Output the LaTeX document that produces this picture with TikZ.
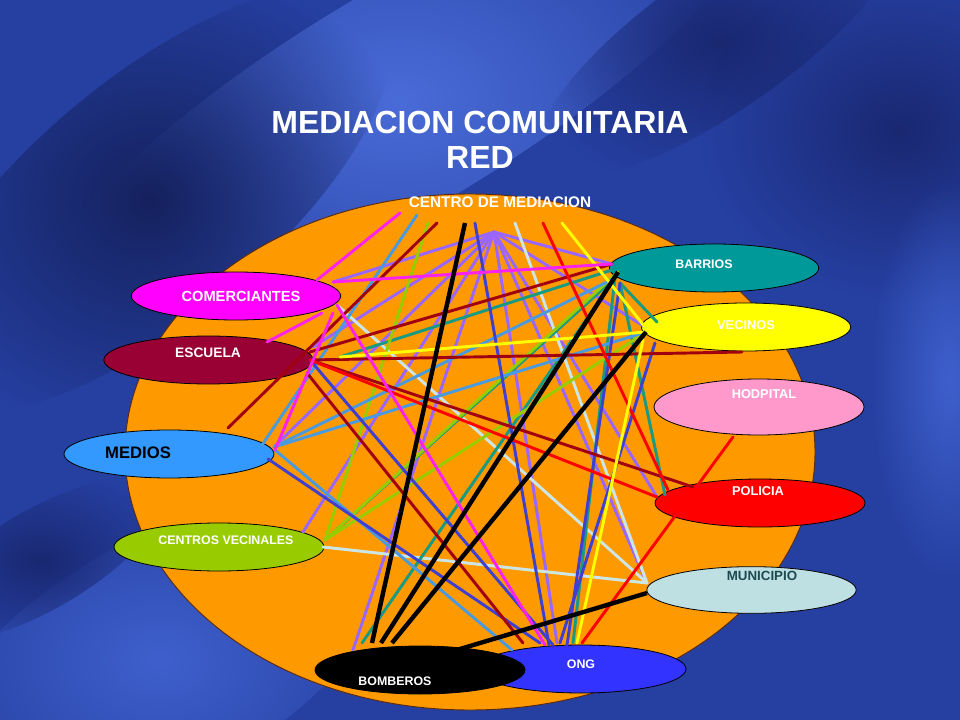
\documentclass[tikz,border=0pt]{standalone}
\usepackage{fontspec}
\setmainfont{Liberation Sans}
\usetikzlibrary{shapes.geometric,fadings}
\tikzfading[name=softblob, inner color=transparent!0, outer color=transparent!100]
\definecolor{bgbase}{HTML}{2640A2}
\definecolor{bgdark}{HTML}{15215E}
\definecolor{bgdark2}{HTML}{1A2872}
\definecolor{bglight}{HTML}{4A6CD8}
\definecolor{bglight2}{HTML}{3F60CC}
\definecolor{orangebig}{HTML}{FF9900}
\definecolor{cMag}{HTML}{FF00FF}
\definecolor{cEsc}{HTML}{990033}
\definecolor{cMed}{HTML}{3399FF}
\definecolor{cCen}{HTML}{99CC00}
\definecolor{cOng}{HTML}{3333FF}
\definecolor{cBar}{HTML}{009999}
\definecolor{cVec}{HTML}{FFFF00}
\definecolor{cHos}{HTML}{FF99CC}
\definecolor{cPol}{HTML}{FF0000}
\definecolor{cMun}{HTML}{BEE0E3}
\definecolor{lMag}{HTML}{FF22EE}
\definecolor{lDred}{HTML}{A00010}
\definecolor{lLav}{HTML}{9966FF}
\definecolor{lBlue}{HTML}{4040D0}
\definecolor{lSky}{HTML}{4A9AE0}
\definecolor{lTeal}{HTML}{1A9A80}
\definecolor{lGreen}{HTML}{99CC00}
\definecolor{lLight}{HTML}{CCE6E6}
\definecolor{lYel}{HTML}{FFFF00}
\definecolor{lRed}{HTML}{FF0000}
\definecolor{tMun}{HTML}{1D4A50}
\definecolor{outl}{HTML}{5A2A10}
\begin{document}
\begin{tikzpicture}[x=0.75pt,y=-0.75pt,
  nd/.style={ellipse, draw=black, line width=0.6pt, inner sep=0pt,
    minimum width=157pt, minimum height=36pt},
  lbl/.style={inner sep=0pt, text=white, font=\fontsize{9.3}{11}\selectfont\bfseries},
  ln/.style={line width=2.2pt, line cap=round},
  thk/.style={line width=3.3pt, draw=black},
  blob/.style={path fading=softblob}]
\useasboundingbox (0,0) rectangle (960,720);
% ---------- background ----------
\begin{scope}
\clip (0,0) rectangle (960,720);
\fill[bgbase] (0,0) rectangle (960,720);
\fill[bglight, blob, rotate around={31:(400,100)}] (400,100) ellipse [x radius=420, y radius=110];
\fill[bgdark, blob, rotate around={40:(150,200)}] (150,200) ellipse [x radius=300, y radius=120];
\fill[bgdark2, blob, rotate around={35:(720,40)}] (720,40) ellipse [x radius=220, y radius=70];
\fill[bgdark2, blob] (900,130) ellipse [x radius=200, y radius=170];
\fill[bglight2, blob, rotate around={30:(160,660)}] (160,660) ellipse [x radius=260, y radius=120];
\fill[bgdark2, blob, rotate around={30:(40,560)}] (40,560) ellipse [x radius=140, y radius=50];
\fill[bglight2, blob] (950,380) ellipse [x radius=80, y radius=200];
\end{scope}
% ---------- big orange ellipse ----------
\draw[fill=orangebig, draw=outl, line width=0.7pt]
  (470,452) ellipse [x radius=345, y radius=258];
% ---------- nodes ----------
\node[nd, fill=cMag] (com) at (236,296) {};
\node[nd, fill=cEsc] (esc) at (208.5,360) {};
\node[nd, fill=cMed, minimum width=157.5pt] (med) at (169,454) {};
\node[nd, fill=cCen, minimum width=157.5pt] (cen) at (219,547) {};
\node[nd, fill=cOng, minimum width=157.5pt] (ong) at (581,669) {};
\node[nd, fill=black, minimum width=157.5pt] (bom) at (420,670) {};
\node[nd, fill=cBar] (bar) at (714,268) {};
\node[nd, fill=cVec] (vec) at (746,327) {};
\node[nd, fill=cHos, minimum width=157.5pt, minimum height=42pt] (hos) at (759,407) {};
\node[nd, fill=cPol, minimum width=157.5pt] (pol) at (760,503) {};
\node[nd, fill=cMun, minimum height=35pt] (mun) at (751.5,590) {};
% ---------- connector end points ----------
\coordinate (t1) at (400,213);
\coordinate (t2) at (417,215);
\coordinate (t3) at (428,223);
\coordinate (t4) at (437,223);
\coordinate (t5) at (465,223);
\coordinate (t6) at (475,223);
\coordinate (hub) at (494,232);
\coordinate (t7) at (515,223);
\coordinate (t8) at (543,223);
\coordinate (t9) at (562,223);
\coordinate (comA) at (333,282);
\coordinate (comB) at (317,280);
\coordinate (comC) at (337,305);
\coordinate (comD) at (322,313);
\coordinate (comE) at (333,313);
\coordinate (escA) at (310,360);
\coordinate (escB) at (310,352);
\coordinate (escC) at (340,357);
\coordinate (escD) at (313,347);
\coordinate (escE) at (267,342);
\coordinate (escF) at (307,373);
\coordinate (medA) at (274,447);
\coordinate (medB) at (268,459);
\coordinate (medC) at (262,445);
\coordinate (medD) at (275,450);
\coordinate (drEnd) at (228,428);
\coordinate (cenA) at (325,540);
\coordinate (cenB) at (323,547);
\coordinate (cenC) at (303,532);
\coordinate (bo1) at (362,643);
\coordinate (bo2) at (372,643);
\coordinate (bo3) at (381,643);
\coordinate (bo4) at (392,643);
\coordinate (bo5) at (353,650);
\coordinate (bo6) at (450,652);
\coordinate (on1) at (512,650);
\coordinate (on2) at (523,643);
\coordinate (on3) at (540,643);
\coordinate (on4) at (545,645);
\coordinate (on4b) at (549,645);
\coordinate (on5) at (553,645);
\coordinate (on6) at (557,643);
\coordinate (on7) at (560,643);
\coordinate (on8) at (567,645);
\coordinate (on9) at (573,643);
\coordinate (on10) at (577,643);
\coordinate (on11) at (582,643);
\coordinate (baA) at (612,264);
\coordinate (baB) at (618,272);
\coordinate (baC) at (615,278);
\coordinate (baD) at (620,283);
\coordinate (baE) at (612,270);
\coordinate (veA) at (646,332);
\coordinate (veB) at (643,340);
\coordinate (veC) at (655,343);
\coordinate (veD) at (657,322);
\coordinate (veE) at (645,327);
\coordinate (drH) at (742,352);
\coordinate (hoEnd) at (733,437);
\coordinate (poA) at (657,497);
\coordinate (poB) at (668,490);
\coordinate (poC) at (693,487);
\coordinate (poD) at (665,495);
\coordinate (muA) at (647,583);
\coordinate (muB) at (647,593);
% ---------- connectors ----------
\foreach \e in {comA,escD,medA,cenC,bo5,on6,poA,baA,veE,muA}
  \draw[ln, lLav] (hub) -- (\e);
\draw[ln, lLight] (t7) -- (muA);
\draw[ln, lLight] (comC) -- (muA);
\draw[ln, lLight] (cenB) -- (muA);
\draw[ln, lTeal] (escC) -- (baE);
\draw[ln, lTeal] (baC) -- (bo1);
\draw[ln, lTeal] (baD) -- (veD);
\draw[ln, lTeal] (baD) -- (poD);
\draw[ln, lTeal] (baC) -- (on9);
\draw[ln, lTeal] (cenA) -- (baC);
\draw[ln, lGreen] (t3) -- (cenA);
\draw[ln, lGreen] (cenA) -- (veA);
\draw[ln, lGreen] (cenA) -- (baB);
\draw[ln, lSky] (t2) -- (medC);
\draw[ln, lSky] (medA) -- (veA);
\draw[ln, lSky] (medA) -- (baC);
\draw[ln, lSky] (medD) -- (on1);
\draw[ln, lBlue] (t6) -- (on4b);
\draw[ln, lBlue] (medB) -- (on3);
\draw[ln, lBlue] (escA) -- (on5);
\draw[ln, lBlue] (veC) -- (on7);
\draw[ln, lBlue] (baD) -- (on8);
\draw[ln, lDred] (t4) -- (drEnd);
\draw[ln, lDred] (escB) -- (baA);
\draw[ln, lDred] (escA) -- (drH);
\draw[ln, lDred] (escA) -- (poC);
\draw[ln, lDred] (escF) -- (on2);
\draw[ln, lRed] (t8) -- (poB);
\draw[ln, lRed] (escA) -- (poA);
\draw[ln, lRed] (on11) -- (hoEnd);
\draw[ln, lYel] (t9) -- (veE);
\draw[ln, lYel] (veB) -- (on10);
\draw[ln, lYel] (escC) -- (veA);
\draw[ln, lMag] (t1) -- (comB);
\draw[ln, lMag] (comA) -- (baA);
\draw[ln, lMag] (comC) -- (on4);
\draw[ln, lMag] (comD) -- (escE);
\draw[ln, lMag] (comE) -- (medD);
\draw[thk] (t5) -- (bo2);
\draw[thk] (baB) -- (bo3);
\draw[thk] (veA) -- (bo4);
\draw[thk] (bo6) -- (muB);
% ---------- labels ----------
\node[inner sep=0pt, text=white, font=\fontsize{24}{28}\selectfont\bfseries] (title1) at (480,122) {MEDIACION COMUNITARIA};
\node[inner sep=0pt, text=white, font=\fontsize{24}{28}\selectfont\bfseries] (title2) at (480,157) {RED};
\node[inner sep=0pt, text=white, font=\fontsize{11.5}{13}\selectfont\bfseries] (centro) at (500,202) {CENTRO DE MEDIACION};
\node[lbl, font=\fontsize{11}{13}\selectfont\bfseries] (comL) at (241,296) {COMERCIANTES};
\node[lbl, font=\fontsize{10.3}{12}\selectfont\bfseries] (escL) at (208,353) {ESCUELA};
\node[lbl, text=black, font=\fontsize{12.5}{14}\selectfont\bfseries] (medL) at (138,453) {MEDIOS};
\node[lbl] (cenL) at (226,540) {CENTROS VECINALES};
\node[lbl] (barL) at (704,264) {BARRIOS};
\node[lbl, font=\fontsize{9.6}{11}\selectfont\bfseries] (vecL) at (746,325) {VECINOS};
\node[lbl, font=\fontsize{9.6}{11}\selectfont\bfseries] (hosL) at (764,394) {HODPITAL};
\node[lbl, font=\fontsize{9.6}{11}\selectfont\bfseries] (polL) at (758,491) {POLICIA};
\node[lbl, text=tMun, font=\fontsize{10}{12}\selectfont\bfseries] (munL) at (762,576) {MUNICIPIO};
\node[lbl] (ongL) at (581,664) {ONG};
\node[lbl] (bomL) at (395,681) {BOMBEROS};
\end{tikzpicture}
\end{document}
